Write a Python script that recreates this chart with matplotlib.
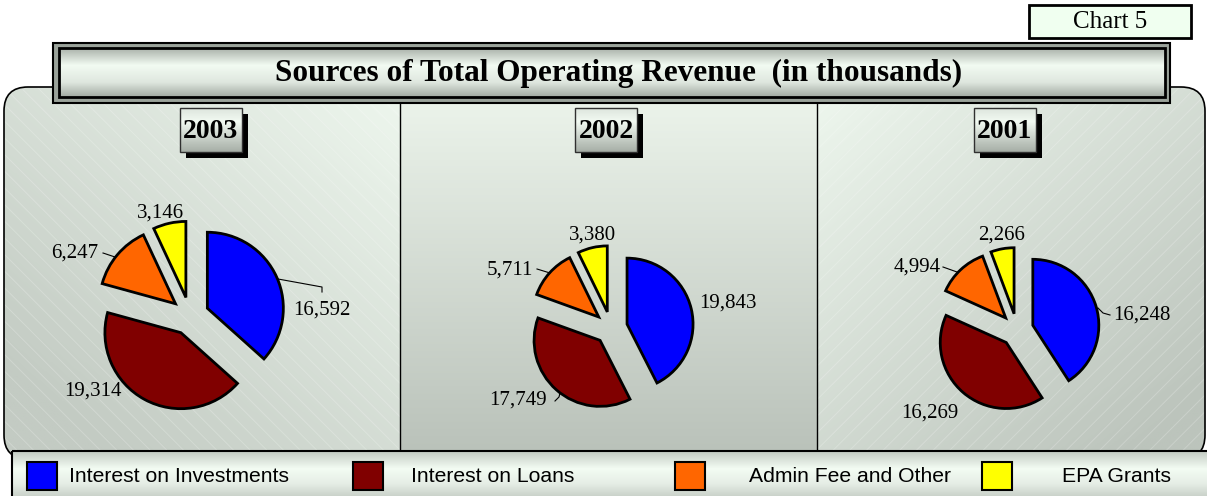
import numpy as np
import matplotlib.pyplot as plt
from matplotlib.patches import Rectangle, FancyBboxPatch
from matplotlib.colors import LinearSegmentedColormap

# Data (in thousands)
years = ["2003", "2002", "2001"]
categories = ["Interest on Investments", "Interest on Loans", "Admin Fee and Other", "EPA Grants"]
revenue_2003 = [16592, 19314, 6247, 3146]
revenue_2002 = [19843, 17749, 5711, 3380]
revenue_2001 = [16248, 16269, 4994, 2266]
revenue = [revenue_2003, revenue_2002, revenue_2001]
colors = ["#0000ff", "#800000", "#ff6600", "#ffff00"]

W, H = 1207, 496
serif = "Liberation Serif"
sans = "Liberation Sans"
plt.rcParams["hatch.linewidth"] = 0.7

fig = plt.figure(figsize=(W / 100, H / 100), dpi=100)
ax = fig.add_axes([0, 0, 1, 1])
ax.set_axis_off()


def shade(x0, x1, y0, y1, t, stops, clip=None, z=1):
    cmap = LinearSegmentedColormap.from_list("s", stops)
    im = ax.imshow(t, cmap=cmap, vmin=0, vmax=1, extent=(x0, x1, y1, y0),
                   origin="upper", aspect="auto", zorder=z, interpolation="bilinear")
    if clip is not None:
        im.set_clip_path(clip)
    return im


# rounded background panel
panel = FancyBboxPatch((4, 87), 1201, 372, boxstyle="round,pad=0,rounding_size=24",
                       facecolor="none", edgecolor="black", lw=1.2, zorder=3)
ax.add_patch(panel)

gx, gy = np.meshgrid(np.linspace(0, 1, 200), np.linspace(0, 1, 200))
light = "#eef7ee"
shade(4, 400, 87, 459, 0.55 * (1 - gx) + 0.6 * gy, [(0, light), (1, "#c3cbc3")], clip=panel)
shade(400, 817, 87, 459, gy, [(0, "#edf5ec"), (1, "#b9c1b9")], clip=panel)
shade(817, 1205, 87, 459, 0.5 * gx + 0.6 * gy, [(0, light), (1, "#bcc4bc")], clip=panel)

# faint diagonal stripes on the outer panels
for x0, x1, h in [(4, 400, "\\\\"), (817, 1205, "//")]:
    r = Rectangle((x0, 87), x1 - x0, 372, facecolor="none", edgecolor=(1, 1, 1, 0.22),
                  lw=0, hatch=h, zorder=2)
    ax.add_patch(r)
    r.set_clip_path(panel)

for xd in [400, 817]:
    ax.plot([xd, xd], [100, 452], color="black", lw=1.0, zorder=3)

# title banner
ax.add_patch(Rectangle((53, 43), 1117, 60, facecolor="#9aa29a", edgecolor="black", lw=1.5, zorder=5))
ax.add_patch(Rectangle((59, 48), 1106, 49, facecolor="none", edgecolor="black", lw=2, zorder=6))
ty = np.linspace(0, 1, 100)[:, None]
shade(59, 1165, 48, 97, ty, [(0, "#aab2aa"), (0.35, "#f2fbf2"), (0.7, "#dfe7df"), (1, "#a3aba3")], z=5.5)
ax.text(619, 73, "Sources of Total Operating Revenue  (in thousands)", family=serif,
        fontsize=22.5, fontweight="bold", ha="center", va="center", zorder=7)

# chart number tag
ax.add_patch(Rectangle((1029, 5), 162, 33, facecolor="#f0fff0", edgecolor="black", lw=2, zorder=5))
ax.text(1110, 22, "Chart 5", family=serif, fontsize=18, ha="center", va="center", zorder=6)

# year tags
tag_x = [180, 575, 974]
for yr, x in zip(years, tag_x):
    ax.add_patch(Rectangle((x + 6, 114), 62, 44, facecolor="black", lw=0, zorder=5))
    ax.add_patch(Rectangle((x, 108), 62, 44, facecolor="none", edgecolor="#303030", lw=1, zorder=6.5))
    shade(x, x + 62, 108, 152, ty, [(0, "#dde5dd"), (0.3, "#f2faf2"), (1, "#a6aea6")], z=6)
    ax.text(x + 31, 131, yr, family=serif, fontsize=20, fontweight="bold",
            ha="center", va="center", zorder=7)

# pies (explode is given in pixels because the axes are in pixel units)
centers = [(190, 316), (611, 328), (1017, 330)]
radii = [76, 66, 66]
for vals, c, r in zip(revenue, centers, radii):
    ax.pie(vals, colors=colors, center=c, radius=r, startangle=-90, counterclock=True,
           explode=[0.25 * r] * 4, wedgeprops=dict(edgecolor="black", lw=2, zorder=4))

# value labels (offsets from each pie centre) and leader lines
label_off = [
    [(132, -6), (-97, 75), (-115, -63), (-30, -103)],
    [(117, -25), (-93, 72), (-101, -58), (-18, -93)],
    [(125, -15), (-87, 83), (-100, -63), (-15, -95)],
]
for vals, c, offs in zip(revenue, centers, label_off):
    for v, (dx, dy) in zip(vals, offs):
        ax.text(c[0] + dx, c[1] + dy, f"{v:,}", family=serif, fontsize=15,
                ha="center", va="center", zorder=7)

leaders = [
    [(278, 279), (322, 287), (322, 292)],
    [(103, 253), (115, 257)],
    [(537, 269), (550, 273)],
    [(555, 401), (559, 397), (560, 393)],
    [(943, 267), (957, 272)],
    [(1098, 308), (1103, 313), (1110, 315)],
]
for pts in leaders:
    xs, ys = zip(*pts)
    ax.plot(xs, ys, color="black", lw=0.8, zorder=4)

# legend strip
ax.add_patch(Rectangle((12, 451), 1200, 50, facecolor="none", edgecolor="black", lw=1.5, zorder=8.5))
shade(12, 1212, 451, 501, ty, [(0, "#c3cbc3"), (0.35, "#f3fcf3"), (0.65, "#e6eee6"), (1, "#c0c8c0")], z=8)
patch_x = [27, 353, 675, 982]
text_x = [69, 411, 749, 1062]
for name, col, px, tx in zip(categories, colors, patch_x, text_x):
    ax.add_patch(Rectangle((px, 462), 30, 28, facecolor=col, edgecolor="black", lw=1.5, zorder=9))
    ax.text(tx, 477, name, family=sans, fontsize=15.2, ha="left", va="center", zorder=9)

ax.set_xlim(0, W)
ax.set_ylim(H, 0)
ax.set_aspect("auto")

fig.savefig("out.png", dpi=100, facecolor="white")
